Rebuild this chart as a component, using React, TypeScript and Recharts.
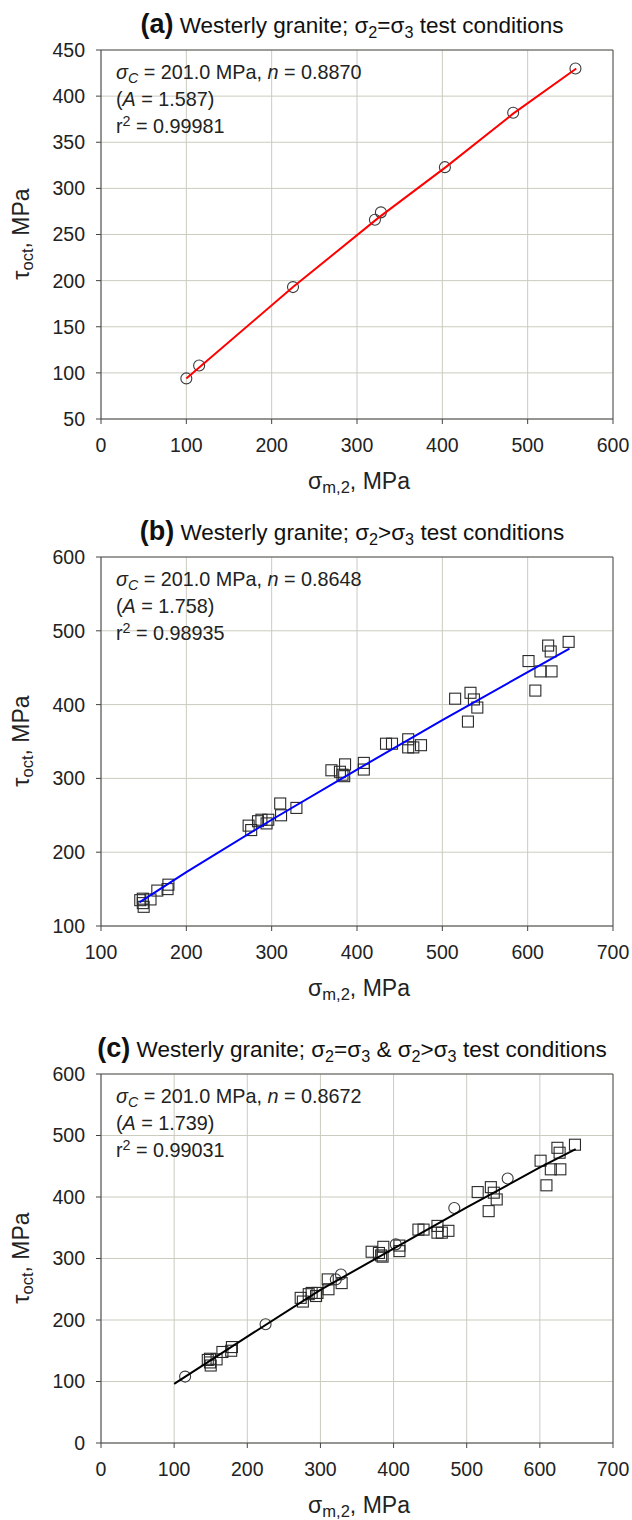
import React from 'react'
import { ScatterChart, Scatter, XAxis, YAxis, CartesianGrid, ReferenceLine } from 'recharts'

const FONT = '"Liberation Sans", Arial, Helvetica, sans-serif'

// sigma2 = sigma3 tests (circles)
const circleX = [100, 115, 225, 321, 328, 403, 483, 556]
const circleY = [94, 108, 193, 266, 274, 323, 382, 430]

// sigma2 > sigma3 tests (squares)
const squareX = [
  146, 149, 150, 149, 158, 166, 178, 179, 273, 276, 284, 288, 294, 296, 310, 311, 329,
  370, 380, 383, 385, 386, 408, 408, 434, 441, 460, 460, 466, 475, 515, 533, 537, 541,
  530, 601, 609, 615, 628, 624, 627, 648,
]
const squareY = [
  135, 137, 126, 131, 136, 148, 150, 156, 236, 230, 242, 244, 239, 244, 266, 250, 260,
  311, 309, 305, 303, 319, 321, 312, 347, 347, 353, 342, 342, 345, 408, 416, 407, 396,
  377, 459, 419, 445, 445, 480, 472, 485,
]

// fitted curves
const fitAX = [100, 225, 325, 404, 483, 557]
const fitAY = [94, 193, 268, 323, 381, 430]
const fitBX = [145, 200, 300, 400, 500, 600, 649]
const fitBY = [132, 173, 244, 312, 379, 444, 476]
const fitCX = [100, 200, 300, 400, 500, 600, 649]
const fitCY = [96, 173, 249, 316, 383, 448, 478]

const xTicksA = [0, 100, 200, 300, 400, 500, 600]
const yTicksA = [50, 100, 150, 200, 250, 300, 350, 400, 450]
const xTicksB = [100, 200, 300, 400, 500, 600, 700]
const yTicksB = [100, 200, 300, 400, 500, 600]
const xTicksC = [0, 100, 200, 300, 400, 500, 600, 700]
const yTicksC = [0, 100, 200, 300, 400, 500, 600]

const zip = (xs: number[], ys: number[]) => xs.map((x, i) => ({ x, y: ys[i] }))

const circles = zip(circleX, circleY)
const squares = zip(squareX, squareY)
// in (c) the 100 MPa circle is not drawn
const circlesC = circles.slice(1)

const Circle = (p: any) => (
  <circle cx={p.cx} cy={p.cy} r={5.5} fill="none" stroke="#3a3a3a" strokeWidth={1.1} />
)
const Square = (p: any) => (
  <rect x={p.cx - 5.5} y={p.cy - 5.5} width={11} height={11} fill="none" stroke="#2a2a2a" strokeWidth={1.1} />
)
const NoDot = () => <g />

const Sub = ({ children, italic }: any) => (
  <span style={{ fontSize: '0.72em', verticalAlign: '-0.3em', lineHeight: 0, fontStyle: italic ? 'italic' : 'normal' }}>
    {children}
  </span>
)
const Sup = ({ children }: any) => (
  <span style={{ fontSize: '0.72em', verticalAlign: '0.5em', lineHeight: 0 }}>{children}</span>
)

const tick = { fill: '#222', fontSize: 19.5, fontFamily: FONT }

function Panel({ top, title, notes, xTicks, yTicks, marks, fit, fitColor }: any) {
  const xDomain = [xTicks[0], xTicks[xTicks.length - 1]]
  const yDomain = [yTicks[0], yTicks[yTicks.length - 1]]
  return (
    <div style={{ position: 'absolute', left: 0, top, width: 632, height: 500 }}>
      <ScatterChart width={632} height={500} margin={{ top: 50, right: 19, bottom: 0, left: 0 }}>
        <CartesianGrid stroke="#cbcbbf" strokeWidth={1} />
        <XAxis
          type="number"
          dataKey="x"
          domain={xDomain}
          ticks={xTicks}
          interval={0}
          allowDataOverflow
          height={81}
          tickSize={5}
          tickMargin={14}
          tick={tick}
          stroke="#444"
        />
        <YAxis
          type="number"
          dataKey="y"
          domain={yDomain}
          ticks={yTicks}
          interval={0}
          allowDataOverflow
          width={101}
          tickSize={5}
          tickMargin={11}
          tick={tick}
          stroke="#444"
        />
        <ReferenceLine y={yDomain[1]} stroke="#555" />
        <ReferenceLine x={xDomain[1]} stroke="#555" />
        {marks.map((m: any, i: number) => (
          <Scatter key={i} data={m.data} shape={m.shape} isAnimationActive={false} />
        ))}
        <Scatter
          data={fit}
          shape={NoDot}
          line={{ stroke: fitColor, strokeWidth: 2 }}
          isAnimationActive={false}
        />
      </ScatterChart>

      <div
        style={{
          position: 'absolute', left: 96, width: 512, top: 9, textAlign: 'center',
          fontFamily: FONT, fontSize: 22.5, color: '#111', whiteSpace: 'nowrap', lineHeight: '30px',
        }}
      >
        <b style={{ fontSize: 27 }}>{title[0]}</b> {title[1]}
      </div>

      <div
        style={{
          position: 'absolute', left: 116, top: 59, fontFamily: FONT, fontSize: 19.8,
          color: '#222', lineHeight: '27px', whiteSpace: 'nowrap',
        }}
      >
        <div>
          <i>σ</i><Sub italic>C</Sub> = 201.0 MPa, <i>n</i> = {notes[0]}
        </div>
        <div>(<i>A</i> = {notes[1]})</div>
        <div>r<Sup>2</Sup> = {notes[2]}</div>
      </div>

      <div
        style={{
          position: 'absolute', left: 21, top: 234, transform: 'translate(-50%, -50%) rotate(-90deg)',
          fontFamily: FONT, fontSize: 23, color: '#222', whiteSpace: 'nowrap',
        }}
      >
        τ<Sub>oct</Sub>, MPa
      </div>

      <div
        style={{
          position: 'absolute', left: 359, top: 481, transform: 'translate(-50%, -50%)',
          fontFamily: FONT, fontSize: 23, color: '#222', whiteSpace: 'nowrap',
        }}
      >
        σ<Sub>m,2</Sub>, MPa
      </div>
    </div>
  )
}

export default function App() {
  return (
    <div style={{ position: 'absolute', left: 0, top: 0, width: 632, height: 1520, background: '#fff' }}>
      <Panel
        top={0}
        title={['(a)', <>Westerly granite; σ<Sub>2</Sub>=σ<Sub>3</Sub> test conditions</>]}
        notes={['0.8870', '1.587', '0.99981']}
        xTicks={xTicksA}
        yTicks={yTicksA}
        marks={[{ data: circles, shape: Circle }]}
        fit={zip(fitAX, fitAY)}
        fitColor="#ff0000"
      />
      <Panel
        top={507}
        title={['(b)', <>Westerly granite; σ<Sub>2</Sub>&gt;σ<Sub>3</Sub> test conditions</>]}
        notes={['0.8648', '1.758', '0.98935']}
        xTicks={xTicksB}
        yTicks={yTicksB}
        marks={[{ data: squares, shape: Square }]}
        fit={zip(fitBX, fitBY)}
        fitColor="#0000ff"
      />
      <Panel
        top={1024}
        title={['(c)', <>Westerly granite; σ<Sub>2</Sub>=σ<Sub>3</Sub> &amp; σ<Sub>2</Sub>&gt;σ<Sub>3</Sub> test conditions</>]}
        notes={['0.8672', '1.739', '0.99031']}
        xTicks={xTicksC}
        yTicks={yTicksC}
        marks={[{ data: squares, shape: Square }, { data: circlesC, shape: Circle }]}
        fit={zip(fitCX, fitCY)}
        fitColor="#000000"
      />
    </div>
  )
}
